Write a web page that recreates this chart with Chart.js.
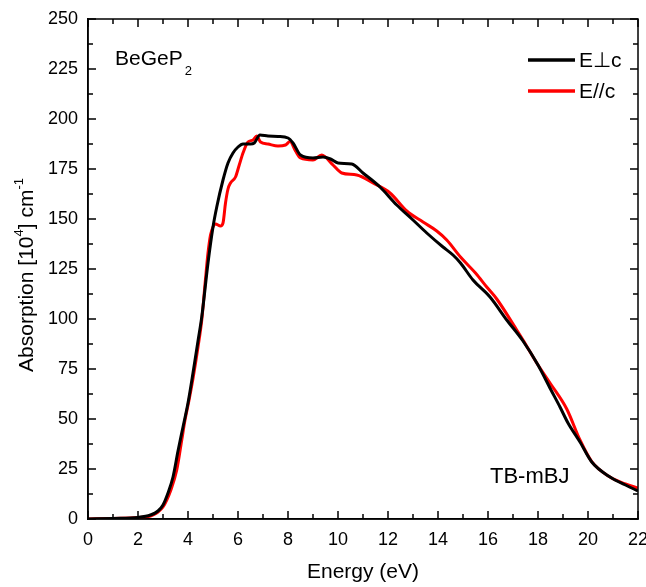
<!DOCTYPE html>
<html>
<head>
<meta charset="utf-8">
<script src="https://cdn.jsdelivr.net/npm/chart.js@4"></script>
<style>
  html, body { margin: 0; padding: 0; background: #fff; }
  #wrap { width: 646px; height: 587px; position: relative; }
</style>
</head>
<body>
<div id="wrap"><canvas id="c" width="646" height="587"></canvas></div>
<script>
// ---- Data ----
const energyPerp = [0,1,2,2.5,2.8,3.0,3.2,3.4,3.6,3.8,4.0,4.2,4.4,4.55,4.8,5.0,5.15,5.4,5.6,5.8,6.0,6.2,6.5,6.65,6.88,7.2,7.6,8.0,8.2,8.5,9.0,9.4,9.7,10.0,10.55,11.0,11.68,12.35,13.0,13.55,14.2,14.6,14.9,15.4,16.08,16.75,17.4,18.0,18.5,18.88,19.2,19.68,20.15,20.88,21.5,22];
const absPerp    = [0,0.3,0.8,2,4,7,13,21,34,46,58,73,89,101,128,146,156,169.5,178,183,186,187.5,187.5,188,192,191.5,191.3,190.5,188,182,180.5,181,180,178,177.5,173,166,157,149.5,143,136,132,128,119.5,111,99.5,89,77,65,56,48,38.5,28.5,21,17,14];

const energyPar = [0,1,2,2.5,2.6,2.8,3.0,3.15,3.3,3.55,3.75,3.88,4.05,4.21,4.4,4.55,4.7,4.8,4.9,5.0,5.1,5.3,5.4,5.5,5.6,5.7,5.9,6.05,6.2,6.4,6.6,6.75,6.9,7.2,7.6,7.9,8.08,8.3,8.5,9.0,9.35,9.8,10.15,10.75,11.4,12.08,12.75,13.4,13.95,14.35,14.9,15.5,15.95,16.35,17.15,17.4,17.95,18.48,19.15,19.68,20.15,20.88,21.5,22];
const absPar    = [0,0.3,0.7,1.5,2,3.5,6,9.5,14,24.5,39.5,49.5,60,71,86,99.5,120,133,142,146,147.5,146.5,148,158,165,168,171,177,183,188.5,189.5,191.5,188.5,187.5,186.5,187,188.7,184,180.5,179.5,182,177,173,172,168,163,154,148.5,144,139.5,131,123,116,110,94.5,89.5,78,68,55,39.5,28.7,21,17.5,15.5];

const seriesLabels = ["E\u22A5c", "E//c"];
const xTickLabels = ["0","2","4","6","8","10","12","14","16","18","20","22"];
const yTickLabels = ["0","25","50","75","100","125","150","175","200","225","250"];

const FONT = "'Liberation Sans', Arial, sans-serif";

function pts(xs, ys) { return xs.map((x, i) => ({ x: x, y: ys[i] })); }

const decor = {
  id: 'decor',
  afterDraw(chart) {
    const ctx = chart.ctx;
    const a = chart.chartArea;
    const xs = chart.scales.x, ys = chart.scales.y;
    ctx.save();
    // frame
    ctx.strokeStyle = '#000';
    ctx.lineWidth = 1.5;
    ctx.strokeRect(a.left, a.top, a.right - a.left, a.bottom - a.top);
    // inward ticks on all four sides
    ctx.lineWidth = 1.5;
    ctx.beginPath();
    for (let v = 0; v <= 22; v += 1) {
      const p = xs.getPixelForValue(v);
      const len = (v % 2 === 0) ? 8 : 5;
      ctx.moveTo(p, a.bottom); ctx.lineTo(p, a.bottom - len);
      ctx.moveTo(p, a.top); ctx.lineTo(p, a.top + len);
    }
    for (let v = 0; v <= 250; v += 12.5) {
      const p = ys.getPixelForValue(v);
      const len = (v % 25 === 0) ? 8 : 5;
      ctx.moveTo(a.left, p); ctx.lineTo(a.left + len, p);
      ctx.moveTo(a.right, p); ctx.lineTo(a.right - len, p);
    }
    ctx.stroke();

    // legend
    ctx.textBaseline = 'middle';
    ctx.textAlign = 'left';
    ctx.font = '21px ' + FONT;
    const legY = [a.top + 41, a.top + 72];
    chart.data.datasets.forEach((ds, i) => {
      ctx.strokeStyle = ds.borderColor;
      ctx.lineWidth = 3.5;
      ctx.beginPath();
      ctx.moveTo(a.left + 440, legY[i]);
      ctx.lineTo(a.left + 487, legY[i]);
      ctx.stroke();
      ctx.fillStyle = '#000';
      ctx.fillText(ds.label, a.left + 491, legY[i] + 1);
    });

    // compound label
    ctx.fillStyle = '#000';
    ctx.textBaseline = 'alphabetic';
    ctx.font = '21px ' + FONT;
    ctx.fillText('BeGeP', a.left + 27, a.top + 46);
    const w = ctx.measureText('BeGeP').width;
    ctx.font = '13px ' + FONT;
    ctx.fillText('2', a.left + 27 + w + 2, a.top + 56);

    // method label
    ctx.font = '22px ' + FONT;
    ctx.fillText('TB-mBJ', a.left + 402, a.bottom - 36);

    // y-axis title with superscripts
    ctx.translate(27, (a.top + a.bottom) / 2 + 6);
    ctx.rotate(-Math.PI / 2);
    const parts = [
      ['Absorption [10', 21, 0],
      ['4', 13, -8],
      ['] cm', 21, 0],
      ['-1', 13, -8]
    ];
    let total = 0;
    parts.forEach(p => { ctx.font = p[1] + 'px ' + FONT; total += ctx.measureText(p[0]).width; });
    let cx = -total / 2;
    ctx.textBaseline = 'middle';
    parts.forEach(p => {
      ctx.font = p[1] + 'px ' + FONT;
      ctx.fillText(p[0], cx, p[2]);
      cx += ctx.measureText(p[0]).width;
    });
    ctx.restore();
  }
};

new Chart(document.getElementById('c'), {
  type: 'line',
  data: {
    datasets: [
      { label: seriesLabels[0], data: pts(energyPerp, absPerp), borderColor: '#000000', borderWidth: 3, pointRadius: 0, cubicInterpolationMode: 'monotone', fill: false },
      { label: seriesLabels[1], data: pts(energyPar, absPar), borderColor: '#ff0000', borderWidth: 3, pointRadius: 0, cubicInterpolationMode: 'monotone', fill: false }
    ]
  },
  options: {
    responsive: false,
    animation: false,
    events: [],
    layout: { padding: { top: 19, right: 8, left: 0, bottom: 0 }, autoPadding: false },
    plugins: { legend: { display: false }, tooltip: { enabled: false } },
    scales: {
      x: {
        type: 'linear', min: 0, max: 22,
        grid: { display: false, drawTicks: false },
        border: { display: true, color: '#000', width: 1.5 },
        ticks: {
          stepSize: 2, padding: 10, color: '#000', maxRotation: 0, autoSkip: false,
          font: { family: FONT, size: 18 },
          callback: (v) => xTickLabels[Math.round(v / 2)]
        },
        title: { display: true, text: 'Energy (eV)', color: '#000', font: { family: FONT, size: 21 }, padding: { top: 0, bottom: 2 } },
        afterFit: (s) => { s.height = 68; s.paddingLeft = 0; s.paddingRight = 0; }
      },
      y: {
        type: 'linear', min: 0, max: 250,
        grid: { display: false, drawTicks: false },
        border: { display: true, color: '#000', width: 1.5 },
        ticks: {
          stepSize: 25, padding: 10, color: '#000', autoSkip: false,
          font: { family: FONT, size: 18 },
          callback: (v) => yTickLabels[Math.round(v / 25)]
        },
        afterFit: (s) => { s.width = 88; s.paddingTop = 0; s.paddingBottom = 0; }
      }
    }
  },
  plugins: [decor]
});
</script>
</body>
</html>
